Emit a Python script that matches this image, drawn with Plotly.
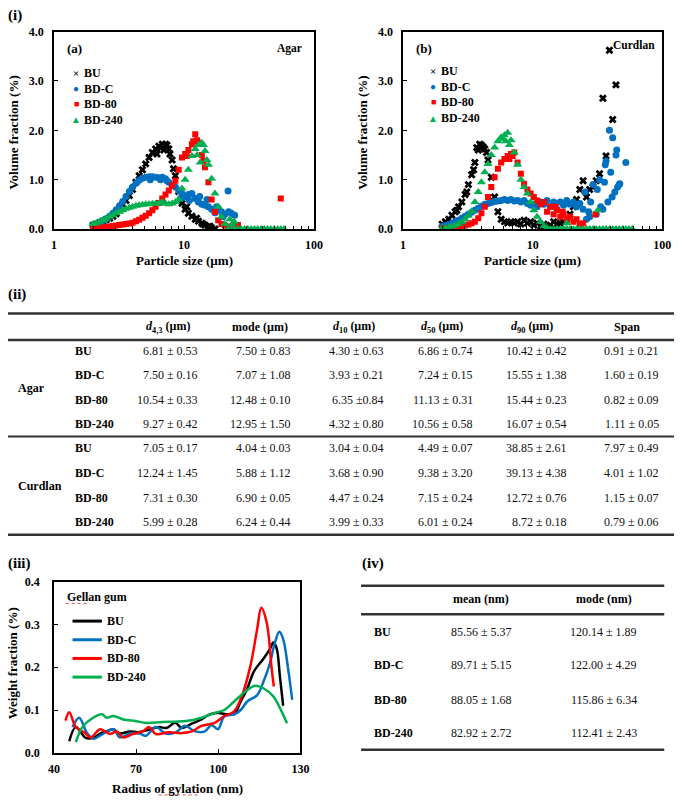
import plotly.graph_objects as go

W, H = 685, 803
FONT = "Liberation Serif, Times New Roman, serif"

# ---------------- data ----------------
SIZE_GRID = [2.00, 2.12, 2.25, 2.38, 2.52, 2.68, 2.84, 3.01, 3.19, 3.38,
             3.58, 3.80, 4.02, 4.27, 4.52, 4.79, 5.08, 5.39, 5.71, 6.05,
             6.41, 6.80, 7.21, 7.64, 8.10, 8.58, 9.10, 9.64, 10.2, 10.8,
             11.5, 12.2, 12.9, 13.7, 14.5, 15.4, 16.3, 17.3, 18.3, 19.4,
             20.6, 21.8, 23.1, 24.5, 26.0, 27.5, 29.2, 30.9, 32.8, 34.8,
             36.8, 39.1, 41.4, 43.9, 46.5, 49.3, 52.3, 55.4, 58.7]

SAMPLES = ["BU", "BD-C", "BD-80", "BD-240"]

# (a) Agar volume fraction (%)
AGAR_BU_Y = [0.08, 0.10, 0.13, 0.16, 0.19, 0.22, 0.26, 0.31, 0.40, 0.50,
             0.58, 0.68, 0.80, 0.95, 1.08, 1.20, 1.32, 1.45, 1.55, 1.62,
             1.68, 1.72, 1.72, 1.62, 1.40, 1.08, 0.76, 0.52, 0.40, 0.32,
             0.26, 0.20, 0.16, 0.12, 0.08, 0.05, 0.02, 0.00]
AGAR_BU_EXTRA_X = [6.6, 7.0, 7.4, 6.2, 7.8, 8.3, 10.5, 12.5, 14.0, 15.8]
AGAR_BU_EXTRA_Y = [1.64, 1.60, 1.70, 1.52, 1.52, 1.22, 0.45, 0.22, 0.10, 0.06]
AGAR_BDC_Y = [0.08, 0.10, 0.13, 0.17, 0.21, 0.26, 0.32, 0.39, 0.47, 0.56,
              0.66, 0.76, 0.85, 0.93, 0.99, 1.03, 1.05, 1.06, 1.06, 1.05,
              1.04, 1.05, 1.02, 0.95, 0.88, 0.85, 0.78, 0.72, 0.65, 0.70,
              0.72, 0.62, 0.55, 0.50, 0.48, 0.45, 0.40, 0.33, 0.42, 0.35,
              0.30, 0.77, 0.32, 0.28]
AGAR_BDC_EXTRA_X = [22.0, 20.0, 17.8, 15.0, 5.5, 6.6, 7.4, 9.4, 11.0, 13.2]
AGAR_BDC_EXTRA_Y = [0.35, 0.25, 0.45, 0.60, 1.00, 1.00, 0.98, 0.62, 0.58, 0.66]
AGAR_BD80_Y = [0.01, 0.02, 0.02, 0.03, 0.04, 0.05, 0.06, 0.07, 0.08, 0.09,
               0.10, 0.11, 0.13, 0.16, 0.19, 0.23, 0.27, 0.32, 0.38, 0.45,
               0.53, 0.62, 0.70, 0.78, 0.88, 0.98, 1.20, 1.45, 1.52, 1.60,
               1.72, 1.92, 1.75, 1.50, 1.25, 0.95, 0.60, 0.35, 0.18, 0.10,
               0.07, 0.05, 0.04, 0.06, 0.08]
AGAR_BD80_EXTRA_X = [55.4, 11.8, 12.6, 10.5, 14.1]
AGAR_BD80_EXTRA_Y = [0.62, 1.78, 1.80, 1.48, 1.38]
AGAR_BD240_Y = [0.10, 0.12, 0.15, 0.18, 0.21, 0.25, 0.28, 0.32, 0.35, 0.38,
                0.41, 0.43, 0.45, 0.47, 0.48, 0.49, 0.50, 0.50, 0.51, 0.52,
                0.52, 0.55, 0.52, 0.50, 0.52, 0.55, 0.60, 0.82, 1.00, 1.20,
                1.48, 1.62, 1.70, 1.75, 1.58, 1.30, 1.02, 0.72, 0.45, 0.25,
                0.10, 0.00, 0.00, 0.00, 0.00, 0.00, 0.00, 0.00, 0.00, 0.00,
                0.00, 0.00, 0.00, 0.00, 0.00, 0.00, 0.00, 0.00, 0.00]
AGAR_BD240_EXTRA_X = [22.5, 24.3, 23.5, 12.6, 13.3, 14.1, 15.0]
AGAR_BD240_EXTRA_Y = [0.20, 0.15, 0.10, 1.50, 1.35, 1.70, 1.40]

# (b) Curdlan volume fraction (%)
CURD_BU_Y = [0.10, 0.15, 0.20, 0.28, 0.35, 0.45, 0.55, 0.70, 0.90, 1.10,
             1.35, 1.60, 1.70, 1.62, 1.40, 1.05, 0.65, 0.35, 0.20, 0.15,
             0.12, 0.15, 0.12, 0.15, 0.10, 0.18, 0.12, 0.15, 0.08, 0.12,
             0.05, 0.10, 0.05, 0.08, 0.15, 0.10, 0.12, 0.15, 0.20, 0.30,
             0.45, 0.60, 0.80, 0.98, 0.65, 0.80, 0.85, 0.98, 1.12, 2.65,
             1.48, 3.62, 2.22, 2.92]
CURD_BU_EXTRA_X = [3.7, 3.9, 4.15, 4.4, 3.5, 2.6, 3.1]
CURD_BU_EXTRA_Y = [1.65, 1.72, 1.66, 1.55, 1.20, 0.38, 0.75]
CURD_BDC_Y = [0.05, 0.07, 0.09, 0.12, 0.15, 0.18, 0.22, 0.26, 0.30, 0.34,
              0.38, 0.42, 0.46, 0.50, 0.52, 0.54, 0.56, 0.57, 0.58, 0.60,
              0.58, 0.60, 0.57, 0.58, 0.55, 0.58, 0.52, 0.48, 0.50, 0.45,
              0.55, 0.50, 0.58, 0.45, 0.55, 0.40, 0.55, 0.48, 0.58, 0.50,
              0.55, 0.45, 0.52, 0.40, 0.20, 0.25, 0.90, 0.30, 1.00, 0.40,
              1.38, 2.00, 1.85, 1.50, 0.90]
CURD_BDC_EXTRA_X = [25.3, 28.0, 33.5, 35.8, 38.0, 40.0, 41.0, 43.0, 44.5,
                    45.2, 36.3, 47.0, 52.3, 31.5, 27.0]
CURD_BDC_EXTRA_Y = [0.75, 0.55, 0.45, 0.95, 0.55, 1.15, 0.65, 0.75, 1.60,
                    0.85, 1.30, 0.92, 1.35, 0.80, 0.35]
CURD_BD80_Y = [0.01, 0.02, 0.02, 0.03, 0.04, 0.05, 0.06, 0.07, 0.09, 0.12,
               0.15, 0.22, 0.32, 0.45, 0.65, 0.85, 1.05, 1.22, 1.35, 1.42,
               1.48, 1.52, 1.55, 1.35, 1.12, 0.92, 0.80, 0.72, 0.65, 0.58,
               0.50, 0.55, 0.35, 0.45, 0.30, 0.38, 0.25, 0.30, 0.20, 0.25,
               0.15, 0.20, 0.10, 0.12]
CURD_BD80_EXTRA_X = [30.5, 15.0, 17.0, 6.6, 7.0]
CURD_BD80_EXTRA_Y = [0.30, 0.45, 0.35, 1.42, 1.48]
CURD_BD240_Y = [0.01, 0.02, 0.03, 0.05, 0.07, 0.10, 0.14, 0.20, 0.27, 0.36,
                0.55, 0.75, 0.95, 1.15, 1.32, 1.50, 1.65, 1.78, 1.86, 1.90,
                1.95, 1.80, 1.55, 1.30, 1.00, 0.85, 0.72, 0.55, 0.38, 0.25,
                0.15, 0.06, 0.02, 0.00, 0.00, 0.00, 0.00, 0.00, 0.00, 0.00,
                0.00, 0.00, 0.00, 0.00, 0.00, 0.00, 0.00, 0.00, 0.00, 0.00,
                0.00, 0.00, 0.00, 0.00, 0.00, 0.00, 0.00, 0.00, 0.00]
CURD_BD240_EXTRA_X = [31.8, 18.3, 5.9, 6.2, 6.6]
CURD_BD240_EXTRA_Y = [0.38, 0.12, 1.82, 1.78, 1.70]

# (iii) Gellan gum weight fraction (%) vs radius of gyration (nm)
GEL_BU_X = [45.6, 48.0, 51.6, 54.5, 56.9, 59.3, 61.7, 64.0, 67.7, 70.5,
            73.6, 78.4, 81.0, 84.3, 86.7, 90.3, 93.9, 96.9, 99.9, 103.4,
            105.8, 108.2, 110.6, 113.0, 116.5, 118.9, 120.1, 121.3, 122.5, 123.7]
GEL_BU_Y = [0.027, 0.060, 0.035, 0.035, 0.045, 0.050, 0.055, 0.045, 0.050, 0.048,
            0.052, 0.060, 0.058, 0.070, 0.058, 0.068, 0.078, 0.090, 0.093, 0.090,
            0.090, 0.120, 0.150, 0.190, 0.220, 0.243, 0.258, 0.245, 0.180, 0.110]
GEL_BDC_X = [46.8, 49.2, 52.2, 54.5, 58.1, 61.7, 64.1, 67.7, 71.2, 73.6,
             77.2, 80.8, 84.3, 87.9, 91.5, 95.1, 97.5, 99.9, 102.2, 105.8,
             108.2, 110.6, 114.2, 116.5, 118.9, 120.7, 122.3, 123.7, 125.5, 127.0]
GEL_BDC_Y = [0.060, 0.082, 0.045, 0.033, 0.045, 0.055, 0.036, 0.045, 0.045, 0.040,
             0.060, 0.045, 0.047, 0.063, 0.050, 0.050, 0.065, 0.055, 0.085, 0.090,
             0.100, 0.120, 0.135, 0.166, 0.210, 0.258, 0.283, 0.266, 0.197, 0.124]
GEL_BD80_X = [44.2, 45.6, 48.0, 51.0, 53.4, 56.9, 60.5, 62.9, 65.3, 68.8,
              72.4, 74.8, 77.2, 82.0, 86.7, 90.3, 93.9, 98.7, 102.2, 105.8,
              108.8, 111.8, 114.2, 115.7, 117.7, 119.5, 120.3]
GEL_BD80_Y = [0.075, 0.095, 0.060, 0.048, 0.036, 0.055, 0.044, 0.050, 0.036, 0.044,
              0.050, 0.060, 0.044, 0.048, 0.046, 0.050, 0.063, 0.070, 0.086, 0.097,
              0.136, 0.205, 0.289, 0.339, 0.304, 0.197, 0.155]
GEL_BD240_X = [48.0, 50.4, 53.9, 57.5, 59.3, 61.7, 65.3, 70.0, 73.6, 79.6,
               85.5, 90.3, 93.9, 98.7, 102.2, 105.8, 110.6, 113.5, 116.5, 120.1,
               122.5, 125.1]
GEL_BD240_Y = [0.025, 0.060, 0.080, 0.090, 0.082, 0.086, 0.078, 0.074, 0.070, 0.072,
               0.073, 0.076, 0.082, 0.093, 0.100, 0.120, 0.147, 0.157, 0.151, 0.132,
               0.105, 0.069]

# (ii) table
TAB2_HEADERS = ["<i>d</i><sub>4,3</sub> (µm)", "mode (µm)", "<i>d</i><sub>10</sub> (µm)",
                "<i>d</i><sub>50</sub> (µm)", "<i>d</i><sub>90</sub> (µm)", "Span"]
TAB2_GROUPS = ["Agar", "Curdlan"]
TAB2_AGAR = [
    ["6.81 ± 0.53", "7.50 ± 0.83", "4.30 ± 0.63", "6.86 ± 0.74", "10.42 ± 0.42", "0.91 ± 0.21"],
    ["7.50 ± 0.16", "7.07 ± 1.08", "3.93 ± 0.21", "7.24 ± 0.15", "15.55 ± 1.38", "1.60 ± 0.19"],
    ["10.54 ± 0.33", "12.48 ± 0.10", "6.35 ±0.84", "11.13 ± 0.31", "15.44 ± 0.23", "0.82 ± 0.09"],
    ["9.27 ± 0.42", "12.95 ± 1.50", "4.32 ± 0.80", "10.56 ± 0.58", "16.07 ± 0.54", "1.11 ± 0.05"],
]
TAB2_CURDLAN = [
    ["7.05 ± 0.17", "4.04 ± 0.03", "3.04 ± 0.04", "4.49 ± 0.07", "38.85 ± 2.61", "7.97 ± 0.49"],
    ["12.24 ± 1.45", "5.88 ± 1.12", "3.68 ± 0.90", "9.38 ± 3.20", "39.13 ± 4.38", "4.01 ± 1.02"],
    ["7.31 ± 0.30", "6.90 ± 0.05", "4.47 ± 0.24", "7.15 ± 0.24", "12.72 ± 0.76", "1.15 ± 0.07"],
    ["5.99 ± 0.28", "6.24 ± 0.44", "3.99 ± 0.33", "6.01 ± 0.24", "8.72 ± 0.18", "0.79 ± 0.06"],
]

# (iv) table
TAB4_HEADERS = ["mean (nm)", "mode (nm)"]
TAB4_ROWS = [
    ["85.56 ± 5.37", "120.14 ± 1.89"],
    ["89.71 ± 5.15", "122.00 ± 4.29"],
    ["88.05 ± 1.68", "115.86 ± 6.34"],
    ["82.92 ± 2.72", "112.41 ± 2.43"],
]

COLORS = ["#000000", "#0070C0", "#FF0000", "#00B050"]
SYMBOLS = ["x", "circle", "square", "triangle-up"]
MSIZES = [7, 7, 6, 8]


def px(x):
    return x / W


def py(y):
    return 1 - y / H


fig = go.Figure()

agar = [(SIZE_GRID[:len(AGAR_BU_Y)] + AGAR_BU_EXTRA_X, AGAR_BU_Y + AGAR_BU_EXTRA_Y),
        (SIZE_GRID[:len(AGAR_BDC_Y)] + AGAR_BDC_EXTRA_X, AGAR_BDC_Y + AGAR_BDC_EXTRA_Y),
        (SIZE_GRID[:len(AGAR_BD80_Y)] + AGAR_BD80_EXTRA_X, AGAR_BD80_Y + AGAR_BD80_EXTRA_Y),
        (SIZE_GRID[:len(AGAR_BD240_Y)] + AGAR_BD240_EXTRA_X, AGAR_BD240_Y + AGAR_BD240_EXTRA_Y)]
curd = [(SIZE_GRID[:len(CURD_BU_Y)] + CURD_BU_EXTRA_X, CURD_BU_Y + CURD_BU_EXTRA_Y),
        (SIZE_GRID[:len(CURD_BDC_Y)] + CURD_BDC_EXTRA_X, CURD_BDC_Y + CURD_BDC_EXTRA_Y),
        (SIZE_GRID[:len(CURD_BD80_Y)] + CURD_BD80_EXTRA_X, CURD_BD80_Y + CURD_BD80_EXTRA_Y),
        (SIZE_GRID[:len(CURD_BD240_Y)] + CURD_BD240_EXTRA_X, CURD_BD240_Y + CURD_BD240_EXTRA_Y)]

for i, (xs, ys) in enumerate(agar):
    fig.add_trace(go.Scatter(x=xs, y=ys, mode="markers", name=SAMPLES[i],
                             marker=dict(symbol=SYMBOLS[i], size=MSIZES[i], color=COLORS[i], line=dict(width=0)),
                             xaxis="x", yaxis="y", showlegend=False))
for i, (xs, ys) in enumerate(curd):
    fig.add_trace(go.Scatter(x=xs, y=ys, mode="markers", name=SAMPLES[i],
                             marker=dict(symbol=SYMBOLS[i], size=MSIZES[i], color=COLORS[i], line=dict(width=0)),
                             xaxis="x2", yaxis="y2", showlegend=False))

gel = [(GEL_BU_X, GEL_BU_Y), (GEL_BDC_X, GEL_BDC_Y), (GEL_BD80_X, GEL_BD80_Y), (GEL_BD240_X, GEL_BD240_Y)]
for i, (xs, ys) in enumerate(gel):
    fig.add_trace(go.Scatter(x=xs, y=ys, mode="lines", name=SAMPLES[i],
                             line=dict(color=COLORS[i], width=2.5, shape="spline", smoothing=1.0),
                             xaxis="x3", yaxis="y3", showlegend=False))

tickfont = dict(family=FONT, size=12, color="black", weight="bold")
axis_common = dict(showline=True, linecolor="black", linewidth=1.5, mirror=True,
                   showgrid=False, zeroline=False, ticks="inside", tickcolor="black",
                   ticklen=4, tickfont=tickfont)

xlog = dict(axis_common, type="log", range=[0, 2], dtick=1,
            minor=dict(ticks="inside", ticklen=3, tickcolor="black", dtick="D1", showgrid=False),
            ticklabelstandoff=4)
ylin = dict(axis_common, range=[0, 4], dtick=1, tickformat=".1f", ticklabelstandoff=6)

fig.update_layout(
    width=W, height=H, margin=dict(l=0, r=0, t=0, b=0),
    plot_bgcolor="white", paper_bgcolor="white", showlegend=False,
    xaxis=dict(xlog, domain=[px(49), px(315)], anchor="y"),
    yaxis=dict(ylin, domain=[py(226), py(25)], anchor="x"),
    xaxis2=dict(xlog, domain=[px(406), px(671)], anchor="y2"),
    yaxis2=dict(ylin, domain=[py(226), py(25)], anchor="x2"),
    xaxis3=dict(axis_common, domain=[px(49), px(301)], anchor="y3", range=[40, 130],
                tickvals=[40, 70, 100, 130], ticklabelstandoff=4),
    yaxis3=dict(axis_common, domain=[py(759), py(585)], anchor="x3", range=[0, 0.4],
                dtick=0.1, tickformat=".1f", ticklabelstandoff=10),
)

annotations = []
shapes = []


def ann(text, x, y, size=12, bold=True, xanchor="center", yanchor="middle", color="black", angle=0):
    annotations.append(dict(text=text, x=px(x), y=py(y), xref="paper", yref="paper",
                            xanchor=xanchor, yanchor=yanchor, showarrow=False, textangle=angle,
                            font=dict(family=FONT, size=size, color=color,
                                      weight="bold" if bold else "normal")))


def hline(x0, x1, y, width=2, color="#333333", dash="solid"):
    shapes.append(dict(type="line", xref="paper", yref="paper", x0=px(x0), x1=px(x1),
                       y0=py(y), y1=py(y), line=dict(color=color, width=width, dash=dash)))


# panel labels
ann("(i)", 0, 9, size=15, xanchor="left")
ann("(ii)", 0, 293, size=15, xanchor="left")
ann("(iii)", 0, 566, size=15, xanchor="left")
ann("(iv)", 362, 566, size=15, xanchor="left")

# (a) / (b) texts
ann("(a)", 60, 42, size=13, xanchor="left")
ann("Agar", 305, 42, size=11.5, xanchor="right")
ann("(b)", 417, 42, size=13, xanchor="left")
ann("Curdlan", 666, 39, size=11.5, xanchor="right")

MARK_CHARS = ["×", "●", "■", "▲"]
MARK_SIZES = [11, 10, 9, 10]
for i, s in enumerate(SAMPLES):
    ann(MARK_CHARS[i], 72, 67 + 16 * i, size=MARK_SIZES[i], color=COLORS[i])
    ann(s, 78, 67 + 16 * i, size=12, xanchor="left")
    ann(MARK_CHARS[i], 437, 65 + 16 * i, size=MARK_SIZES[i], color=COLORS[i])
    ann(s, 443, 65 + 16 * i, size=12, xanchor="left")

# axis titles
ann("Particle size (µm)", 182, 258, size=13)
ann("Particle size (µm)", 538, 258, size=13)
ann("Volume fraction (%)", 8, 128, size=13, angle=-90)
ann("Volume fraction (%)", 365, 128, size=13, angle=-90)
ann("Radius of gylation (nm)", 175, 795, size=13)
ann("Weight fraction (%)", 7, 668, size=13, angle=-90)

# (iii) legend
ann("Gellan gum", 60, 600, size=12, xanchor="left")
shapes.append(dict(type="line", xref="paper", yref="paper", x0=px(61), x1=px(86),
                   y0=py(607), y1=py(607), line=dict(color="#E05050", width=1, dash="dot")))
shapes.append(dict(type="line", xref="paper", yref="paper", x0=px(156), x1=px(197),
                   y0=py(802), y1=py(802), line=dict(color="#E05050", width=1, dash="dot")))
for i, s in enumerate(SAMPLES):
    yy = 625 + 19 * i
    shapes.append(dict(type="line", xref="paper", yref="paper", x0=px(68), x1=px(98),
                       y0=py(yy), y1=py(yy), line=dict(color=COLORS[i], width=3)))
    ann(s, 101, yy, size=12, xanchor="left")

# (ii) table
T2_LEFT, T2_RIGHT = 2, 683
hline(T2_LEFT, T2_RIGHT, 312, width=2.5)
hline(T2_LEFT, T2_RIGHT, 339, width=2.5)
hline(T2_LEFT, T2_RIGHT, 437, width=2)
hline(T2_LEFT, T2_RIGHT, 537, width=2.5)
HEAD_X = [166, 260, 356, 446, 538, 635]
COL_RIGHT = [198, 293, 388, 480, 576, 670]
for j, h in enumerate(TAB2_HEADERS):
    ann(h, HEAD_X[j], 326, size=12)
ROW_Y_AGAR = [350, 375, 400, 424]
ROW_Y_CURD = [449, 474, 500, 524]
for rows, ys in ((TAB2_AGAR, ROW_Y_AGAR), (TAB2_CURDLAN, ROW_Y_CURD)):
    for r, vals in enumerate(rows):
        ann(SAMPLES[r], 68, ys[r], size=12, xanchor="left")
        for j, v in enumerate(vals):
            ann(v, COL_RIGHT[j], ys[r], size=12, bold=False, xanchor="right", color="#111111")
ann(TAB2_GROUPS[0], 10, 388, size=12, xanchor="left")
ann(TAB2_GROUPS[1], 10, 487, size=12, xanchor="left")

# (iv) table
T4_LEFT, T4_RIGHT = 363, 673
hline(T4_LEFT, T4_RIGHT, 589, width=2.5)
hline(T4_LEFT, T4_RIGHT, 618, width=2.5)
hline(T4_LEFT, T4_RIGHT, 756, width=2.5)
T4_X = [486, 611]
for j, h in enumerate(TAB4_HEADERS):
    ann(h, T4_X[j], 603, size=12)
ROW_Y4 = [636, 670, 705, 739]
for r, vals in enumerate(TAB4_ROWS):
    ann(SAMPLES[r], 374, ROW_Y4[r], size=12, xanchor="left")
    for j, v in enumerate(vals):
        ann(v, T4_X[j], ROW_Y4[r], size=12, bold=False, color="#111111")

fig.update_layout(annotations=annotations, shapes=shapes)
fig.write_html("out.html", config={"displayModeBar": False},
               post_script="document.body.style.margin='0';document.body.style.overflow='hidden';")
